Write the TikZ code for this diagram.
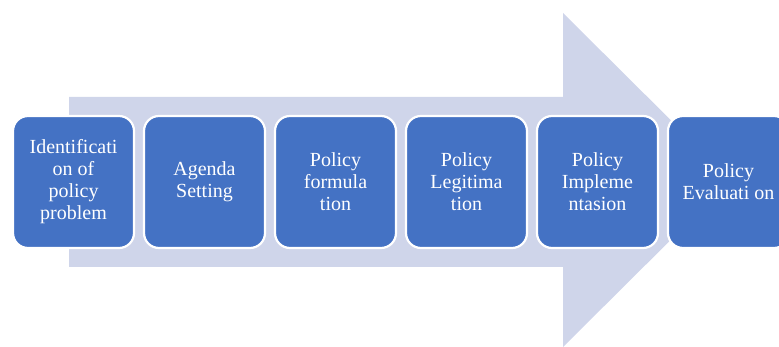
\documentclass[tikz,border=0pt]{standalone}
\usepackage{fontspec}
\setmainfont{Liberation Serif}
\usetikzlibrary{positioning}
\definecolor{stageblue}{RGB}{68, 114, 196}
\definecolor{flowlilac}{RGB}{207, 213, 234}

\begin{document}
\begin{tikzpicture}[x=1pt, y=-1pt, node distance=7.8pt,
    stagebox/.style={draw=white, line width=2.2pt, rounded corners=15pt, rectangle, fill=stageblue, text=white, minimum width=121pt, minimum height=132pt, align=center, font=\fontsize{20}{22}\selectfont}]
    \useasboundingbox (0,0) rectangle (779,347);

    % Background flow arrow
    \fill [flowlilac] (69,97) -- (563,97) -- (563,13) -- (731,180) -- (563,347) -- (563,267) -- (69,267) -- cycle;

    % Stages
    \node [stagebox] (ident) at (73.5,182) {Identificati\\on of\\policy\\problem};
    \node [stagebox, right=of ident] (agenda) {Agenda\\Setting};
    \node [stagebox, right=of agenda] (formul) {Policy\\formula\\tion};
    \node [stagebox, right=of formul] (legit) {Policy\\Legitima\\tion};
    \node [stagebox, right=of legit] (implem) {Policy\\Impleme\\ntasion};
    \node [stagebox, right=of implem] (evalu) {Policy\\Evaluati on};
\end{tikzpicture}
\end{document}
